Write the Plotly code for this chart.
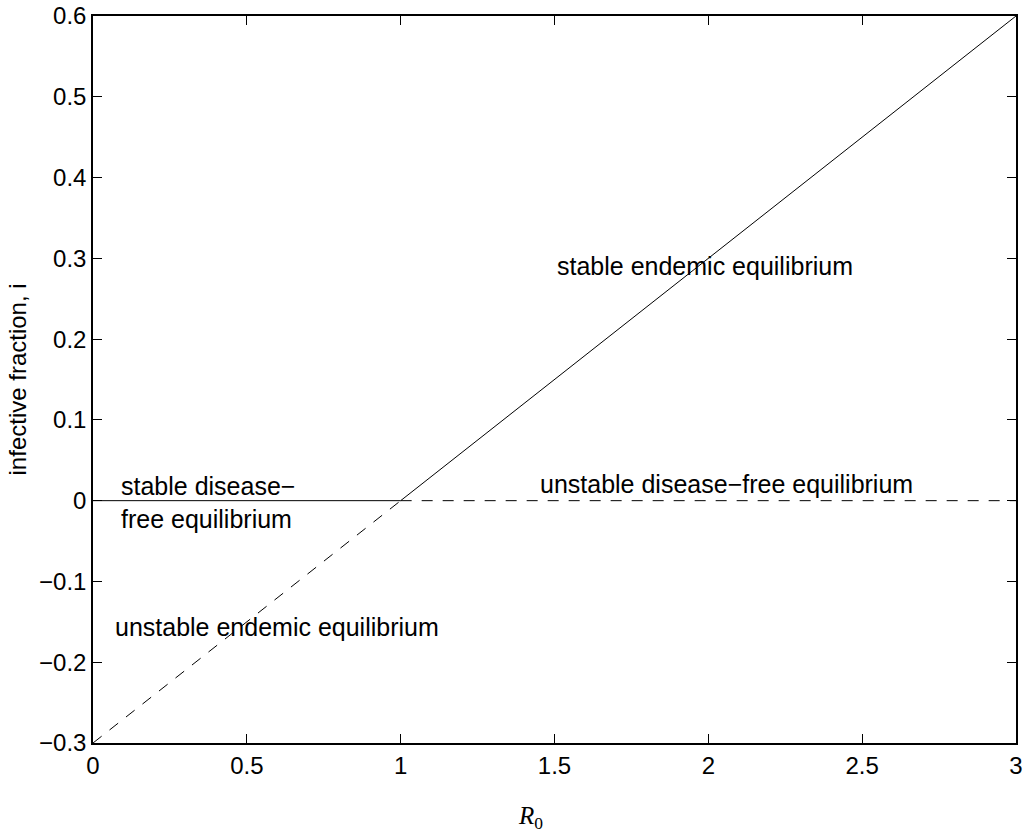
import plotly.graph_objects as go

# Data
r0_dfe_stable = [0, 1]
i_dfe_stable = [0, 0]
r0_dfe_unstable = [1, 3]
i_dfe_unstable = [0, 0]
r0_end_unstable = [0, 1]
i_end_unstable = [-0.3, 0]
r0_end_stable = [1, 3]
i_end_stable = [0, 0.6]

x_ticks = [0, 0.5, 1, 1.5, 2, 2.5, 3]
x_ticklabels = ["0", "0.5", "1", "1.5", "2", "2.5", "3"]
y_ticks = [-0.3, -0.2, -0.1, 0, 0.1, 0.2, 0.3, 0.4, 0.5, 0.6]
y_ticklabels = ["\u22120.3", "\u22120.2", "\u22120.1", "0", "0.1", "0.2", "0.3", "0.4", "0.5", "0.6"]

labels = [
    ("stable endemic equilibrium", 1.5, 0.29),
    ("unstable disease\u2212free equilibrium", 1.445, 0.021),
    ("stable disease\u2212<br>free equilibrium", 0.085, -0.002),
    ("unstable endemic equilibrium", 0.065, -0.156),
]

FONT = "Liberation Sans, Arial, Helvetica"

fig = go.Figure()
solid = dict(color="black", width=1)
dashed = dict(color="black", width=1, dash="11px,10px")
fig.add_trace(go.Scatter(x=r0_dfe_stable, y=i_dfe_stable, mode="lines", line=solid))
fig.add_trace(go.Scatter(x=r0_dfe_unstable, y=i_dfe_unstable, mode="lines", line=dashed))
fig.add_trace(go.Scatter(x=r0_end_unstable, y=i_end_unstable, mode="lines", line=dashed))
fig.add_trace(go.Scatter(x=r0_end_stable, y=i_end_stable, mode="lines", line=solid))

for txt, x, y in labels:
    fig.add_annotation(x=x, y=y, text=txt, showarrow=False, xanchor="left", yanchor="middle",
                       align="left", font=dict(family=FONT, size=25, color="black"))

# axis titles as annotations for precise placement
fig.add_annotation(xref="paper", yref="paper", x=0.4735, y=-0.1018, text="<i>R</i><sub>0</sub>",
                   showarrow=False, xanchor="center", yanchor="middle",
                   font=dict(family="Liberation Serif, DejaVu Serif, serif", size=25, color="black"))
fig.add_annotation(xref="paper", yref="paper", x=-0.0813, y=0.5, text="infective fraction, i",
                   textangle=-90, showarrow=False, xanchor="center", yanchor="middle",
                   font=dict(family=FONT, size=24, color="black"))

fig.update_layout(
    width=1026, height=837,
    margin=dict(l=93, r=10, t=16, b=94),
    paper_bgcolor="white", plot_bgcolor="white",
    showlegend=False,
    font=dict(family=FONT, size=24, color="black"),
)
fig.update_xaxes(
    range=[0, 3], tickvals=x_ticks, ticktext=x_ticklabels, automargin=False,
    ticks="inside", ticklen=9, tickwidth=1, tickcolor="black",
    showline=True, linecolor="black", linewidth=1.5, mirror="ticks",
    showgrid=False, zeroline=False,
)
fig.update_yaxes(
    range=[-0.3, 0.6], tickvals=y_ticks, ticktext=y_ticklabels, automargin=False,
    ticks="inside", ticklen=9, tickwidth=1, tickcolor="black",
    showline=True, linecolor="black", linewidth=1.5, mirror="ticks",
    showgrid=False, zeroline=False,
)

fig.write_html("out.html")
